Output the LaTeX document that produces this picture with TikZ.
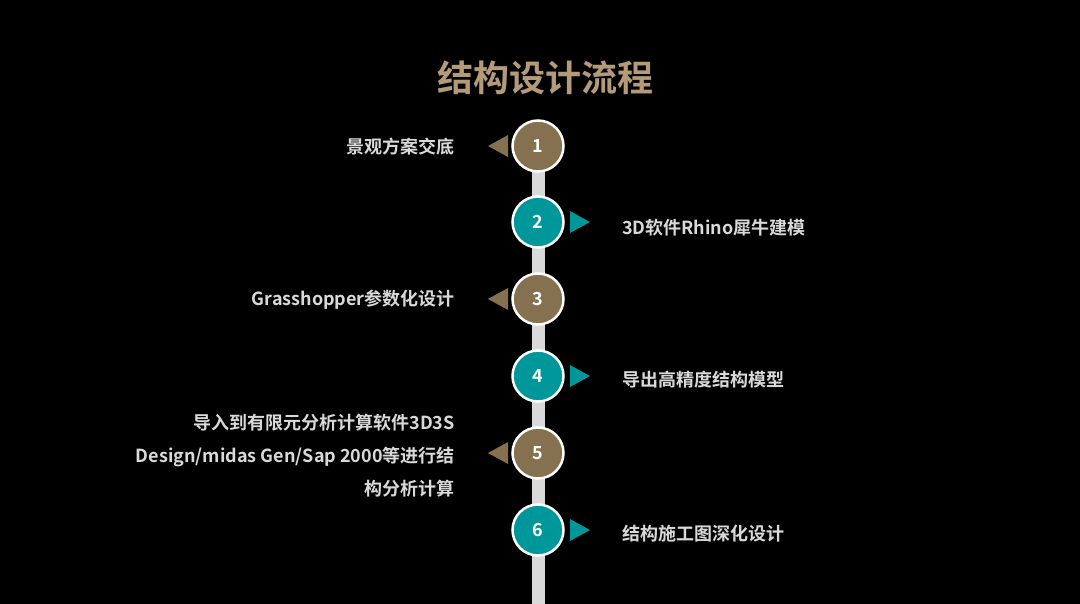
\documentclass[tikz,border=0pt]{standalone}
\usepackage{fontspec}
\setmainfont{Noto Sans CJK SC}[BoldFont={* Bold}]
\definecolor{bgc}{HTML}{000000}
\definecolor{brownc}{HTML}{85714F}
\definecolor{tealc}{HTML}{00979B}
\definecolor{titlec}{HTML}{B39A78}
\definecolor{txtc}{HTML}{D9D9D9}
\definecolor{barc}{HTML}{D9D9D9}
\begin{document}
\begin{tikzpicture}[x=1pt,y=-1pt,
  stepc/.style={circle,draw=white,line width=2.5pt,minimum size=51pt,inner sep=0pt,text=white,font=\fontsize{18}{20}\selectfont\bfseries},
  brownstep/.style={stepc,fill=brownc},
  tealstep/.style={stepc,fill=tealc},
  lefttxt/.style={anchor=east,text=txtc,font=\fontsize{18}{33}\selectfont\bfseries,align=right,inner sep=0pt},
  righttxt/.style={anchor=west,text=txtc,font=\fontsize{18}{33}\selectfont\bfseries,align=left,inner sep=0pt}]
\fill[bgc] (0,0) rectangle (1080,604);
\useasboundingbox (0,0) rectangle (1080,604);
\node[text=titlec,font=\fontsize{36}{40}\selectfont\bfseries] (title) at (545,78) {结构设计流程};
\coordinate (bartop) at (538,146);
\coordinate (barbot) at (538,604);
\draw[barc,line width=13pt] (bartop) -- (barbot);
\node[brownstep] (s1) at (538,146) {1};
\node[tealstep] (s2) at (538,222) {2};
\node[brownstep] (s3) at (538,299) {3};
\node[tealstep] (s4) at (538,376) {4};
\node[brownstep] (s5) at (538,453) {5};
\node[tealstep] (s6) at (538,530) {6};
% triangles
\foreach \n/\y in {1/146,3/299,5/453}{
  \fill[brownc] (488,\y) -- (508,\y-11) -- (508,\y+11) -- cycle;
}
\foreach \n/\y in {2/222,4/376,6/530}{
  \fill[tealc] (590,\y) -- (570,\y-11) -- (570,\y+11) -- cycle;
}
\node[lefttxt] (t1) at (455,147) {景观方案交底};
\node[righttxt] (t2) at (622,228) {3D软件Rhino犀牛建模};
\node[lefttxt] (t3) at (455,300) {Grasshopper参数化设计};
\node[righttxt] (t4) at (622,380) {导出高精度结构模型};
\node[lefttxt] (t5) at (455,456) {导入到有限元分析计算软件3D3S\\Design/midas Gen/Sap 2000等进行结\\构分析计算};
\node[righttxt] (t6) at (622,534) {结构施工图深化设计};
\end{tikzpicture}
\end{document}
